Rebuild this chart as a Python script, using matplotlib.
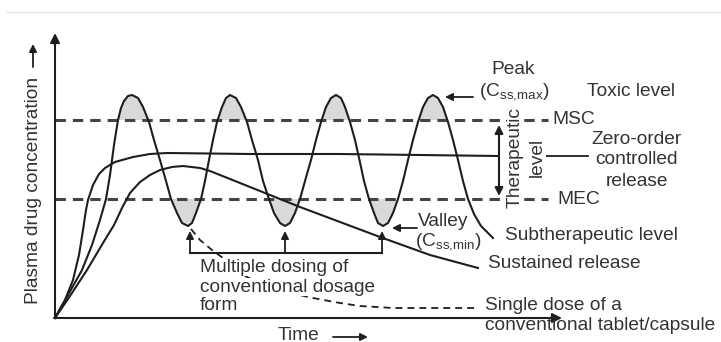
import matplotlib.pyplot as plt
import numpy as np

plt.rcParams['font.family'] = ['Liberation Sans', 'DejaVu Sans']
plt.rcParams['mathtext.fontset'] = 'custom'
plt.rcParams['mathtext.rm'] = 'Liberation Sans'
plt.rcParams['lines.scale_dashes'] = False

# time (arbitrary units) vs plasma concentration (arbitrary units)
multi_t = [0, 1.3, 2.7, 3.7, 4.5, 5.1, 5.5, 5.9, 6.3, 6.6, 6.9, 7.3, 7.7,
           8.3, 8.8, 9.4, 9.9, 10.5, 11.1, 11.6, 12.2, 12.7, 13.3,
           13.7, 14.1, 14.6, 15.0, 15.4, 15.8, 16.2, 16.7, 17.1, 17.5,
           18.1, 18.6, 19.2, 19.7, 20.3, 20.8, 21.4, 21.9, 22.5, 23.0,
           23.5, 24.0, 24.5, 25.0, 25.6, 26.1, 26.6, 27.1, 27.6, 28.1,
           28.6, 29.0, 29.5, 30.0, 30.45, 30.9, 31.4, 31.9, 32.3, 32.8,
           33.3, 33.8, 34.3, 34.8, 35.3, 35.8, 36.3, 36.8, 37.3, 37.8,
           38.3, 38.8, 39.3, 39.8, 40.3, 40.8, 41.3, 41.9, 42.6, 43.3, 43.8]
multi_c = [0, 2.3, 4.8, 7.3, 9.8, 11.9, 14.3, 17.3, 19.8, 21.0, 21.7, 22.2, 22.3,
           22.0, 21.1, 19.6, 17.8, 15.8, 13.7, 11.9, 10.5, 9.5, 9.2,
           9.5, 10.5, 11.9, 13.7, 15.8, 17.8, 19.6, 21.1, 22.0, 22.3,
           22.0, 21.1, 19.6, 17.8, 15.8, 13.7, 11.9, 10.5, 9.5, 9.2,
           9.5, 10.5, 11.9, 13.7, 15.8, 17.8, 19.6, 21.1, 22.0, 22.3,
           22.0, 21.1, 19.6, 17.8, 15.8, 13.7, 11.9, 10.5, 9.5, 9.2,
           9.5, 10.5, 11.9, 13.7, 15.8, 17.8, 19.6, 21.1, 22.0, 22.3,
           22.0, 21.1, 19.6, 17.8, 15.8, 13.7, 11.9, 10.4, 9.2, 8.5, 8.0]

zero_t = [0, 1.0, 1.8, 2.4, 2.8, 3.1, 3.3, 3.8, 4.4, 5.0, 6.0, 7.8, 9.5, 11.2,
          19.5, 28.5, 36.5, 44.3]
zero_c = [0, 1.8, 3.8, 6.3, 8.8, 10.8, 11.8, 13.3, 14.4, 15.0, 15.6, 16.1, 16.4, 16.5,
          16.4, 16.4, 16.3, 16.2]

sust_t = [0, 1.5, 3.2, 4.8, 5.9, 6.7, 7.5, 8.5, 9.5, 10.5, 11.7, 12.8, 14.5,
          15.5, 16.5, 20.5, 24.5, 28.5, 32.5, 37.5, 42.3]
sust_c = [0, 2.2, 4.8, 7.5, 9.3, 11.0, 12.5, 13.6, 14.3, 14.8, 15.1, 15.2, 15.0,
          14.7, 14.3, 12.7, 11.1, 9.6, 8.1, 6.3, 5.0]

single_t = [13.6, 14.5, 15.7, 16.8, 19.0, 21.5, 24.0, 25.8, 28.5, 30.5, 33.8, 37.5, 42.2]
single_c = [8.9, 7.8, 6.8, 6.0, 4.2, 3.0, 2.4, 2.0, 1.5, 1.2, 1.0, 1.0, 1.0]

msc = 19.8
mec = 11.9
valley_t = [13.5, 23.0, 32.7]
bracket_c = 6.5
valley_tip = 8.7

ink = '#1e1e1e'
txt = '#333333'
fs = 13.8

fig = plt.figure(figsize=(7.21, 3.42), dpi=100)
ax = fig.add_axes([0, 0, 1, 1])
ax.set_xlim(-5.5, 66.6)
ax.set_ylim(-2.4, 31.8)
ax.axis('off')

# faint top rule
ax.plot([-4.9, 66.6], [30.6, 30.6], color='#e8e8e8', lw=1)

mt = np.array(multi_t)
mc = np.array(multi_c)
ax.fill_between(mt, mc, msc, where=mc >= msc, interpolate=True, color='#d9d9d9', lw=0)
ax.fill_between(mt, mc, mec, where=(mc <= mec) & (mt > 11) & (mt < 36),
                interpolate=True, color='#d9d9d9', lw=0)

# MSC / MEC levels
ax.plot([0, 49.3], [msc, msc], color='#444444', lw=2.2, dashes=(7.5, 5))
ax.plot([0, 49.3], [mec, mec], color='#444444', lw=2.2, dashes=(7.5, 5))

ax.plot(multi_t, multi_c, color=ink, lw=1.5)
ax.plot(zero_t, zero_c, color=ink, lw=1.5)
ax.plot(sust_t, sust_c, color=ink, lw=1.5)
ax.plot(single_t, single_c, color=ink, lw=1.3, dashes=(5, 3.6))
ax.plot([49.0, 53.3], [16.2, 16.2], color=ink, lw=1.3)

arr = dict(arrowstyle='-|>', color=ink, lw=1.5, mutation_scale=14, shrinkA=0, shrinkB=0)
# axes
ax.annotate('', xy=(0, 28.5), xytext=(0, 0), arrowprops=arr)
ax.annotate('', xy=(50.7, 0), xytext=(-0.1, 0), arrowprops=arr)

small = dict(arrowstyle='-|>', color=ink, lw=1.3, mutation_scale=11, shrinkA=0, shrinkB=0)
ax.annotate('', xy=(-2.2, 27.4), xytext=(-2.2, 25.1), arrowprops=small)
ax.annotate('', xy=(31.3, -1.9), xytext=(27.8, -1.9), arrowprops=small)
ax.annotate('', xy=(39.0, 22.1), xytext=(41.8, 22.1), arrowprops=small)
ax.annotate('', xy=(33.7, 9.0), xytext=(36.2, 9.0), arrowprops=small)
ax.annotate('', xy=(44.4, 19.3), xytext=(44.4, 12.2),
            arrowprops=dict(arrowstyle='<|-|>', color=ink, lw=1.5, mutation_scale=12,
                            shrinkA=0, shrinkB=0))

# bracket for multiple dosing
ax.plot([valley_t[0], valley_t[-1]], [bracket_c, bracket_c], color=ink, lw=1.5)
for vt in valley_t:
    ax.annotate('', xy=(vt, valley_tip), xytext=(vt, bracket_c), arrowprops=small)

white = dict(facecolor='white', edgecolor='none', pad=0.5)
ax.text(-2.2, 12.8, 'Plasma drug concentration', rotation=90, ha='center', va='center',
        fontsize=fs, color=txt)
ax.text(24.4, -1.7, 'Time', ha='center', va='center', fontsize=fs, color=txt)
ax.text(45.8, 24.8, 'Peak', ha='center', va='center', fontsize=fs, color=txt)
ax.text(45.9, 22.6, r'(C$_{\mathregular{ss{,}max}}$)', ha='center', va='center', fontsize=fs, color=txt)
ax.text(53.2, 22.6, 'Toxic level', ha='left', va='center', fontsize=fs, color=txt)
ax.text(49.7, msc, 'MSC', ha='left', va='center', fontsize=fs, color=txt)
ax.text(50.2, mec - 0.1, 'MEC', ha='left', va='center', fontsize=fs, color=txt)
ax.text(58.2, 17.8, 'Zero-order', ha='center', va='center', fontsize=fs, color=txt)
ax.text(58.2, 15.8, 'controlled', ha='center', va='center', fontsize=fs, color=txt)
ax.text(58.2, 13.6, 'release', ha='center', va='center', fontsize=fs, color=txt)
ax.text(46.0, 16.0, 'Therapeutic', rotation=90, ha='center', va='center', fontsize=fs,
        color=txt, bbox=white)
ax.text(48.2, 16.1, 'level', rotation=90, ha='center', va='center', fontsize=fs,
        color=txt, bbox=white)
ax.text(36.3, 9.6, 'Valley', ha='left', va='center', fontsize=fs, color=txt)
ax.text(36.0, 7.6, r'(C$_{\mathregular{ss{,}min}}$)', ha='left', va='center', fontsize=fs, color=txt)
ax.text(45.0, 8.3, 'Subtherapeutic level', ha='left', va='center', fontsize=fs, color=txt)
ax.text(43.3, 5.5, 'Sustained release', ha='left', va='center', fontsize=fs, color=txt)
ax.text(14.5, 5.1, 'Multiple dosing of', ha='left', va='center', fontsize=fs, color=txt, bbox=white)
ax.text(14.5, 3.1, 'conventional dosage', ha='left', va='center', fontsize=fs, color=txt, bbox=white)
ax.text(14.5, 1.2, 'form', ha='left', va='center', fontsize=fs, color=txt, bbox=white)
ax.text(43.0, 1.3, 'Single dose of a', ha='left', va='center', fontsize=fs, color=txt)
ax.text(43.0, -0.7, 'conventional tablet/capsule', ha='left', va='center', fontsize=fs, color=txt)

fig.savefig('out.png', dpi=100, facecolor='white')
